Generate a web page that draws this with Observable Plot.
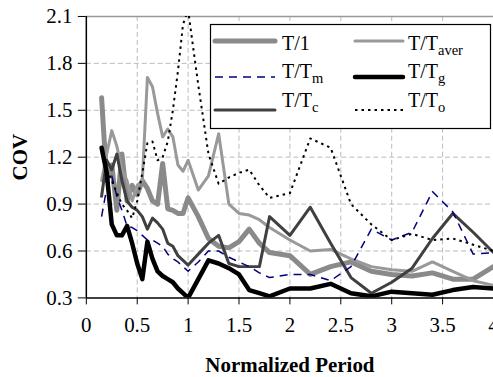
<!DOCTYPE html>
<html><head><meta charset="utf-8">
<script src="https://cdn.jsdelivr.net/npm/d3@7"></script>
<script src="https://cdn.jsdelivr.net/npm/@observablehq/plot@0.6"></script>
<style>
html,body{margin:0;padding:0;background:#fff;overflow:hidden;}
#wrap{position:relative;width:493px;height:377px;overflow:hidden;}
#wrap svg{display:block;}
#wrap svg, #wrap svg text{font-family:"Liberation Serif",serif !important;}
#legend{position:absolute;left:0;top:0;}
</style></head><body><div id="wrap"></div>
<script>
// Normalized period grid
const period = [0.15,0.2,0.25,0.3,0.35,0.4,0.45,0.5,0.55,0.6,0.65,0.7,0.75,0.8,0.85,0.9,0.95,1.0,
  1.1,1.2,1.3,1.4,1.5,1.6,1.7,1.8,2.0,2.2,2.4,2.6,2.8,3.0,3.2,3.4,3.6,3.8,4.0];
// COV series
const cov1 = [1.58,1.05,1.15,0.86,1.22,0.92,1.02,0.96,1.05,1.00,0.92,0.90,1.16,0.87,0.86,0.84,0.84,0.94,
  0.82,0.68,0.63,0.62,0.66,0.74,0.65,0.59,0.57,0.45,0.50,0.53,0.47,0.45,0.44,0.46,0.42,0.42,0.50];
const covAver = [1.05,1.22,1.37,1.27,1.12,1.05,0.92,1.02,1.05,1.71,1.65,1.48,1.33,1.38,1.33,1.15,1.11,1.18,
  0.99,1.08,1.35,0.90,0.84,0.83,0.80,0.75,0.67,0.60,0.61,0.55,0.50,0.48,0.47,0.53,0.47,0.41,0.38];
const covM = [0.82,1.00,1.08,0.95,0.86,0.76,0.75,0.73,0.70,0.67,0.67,0.65,0.63,0.58,0.55,0.53,0.50,0.47,
  0.53,0.60,0.60,0.56,0.53,0.50,0.46,0.43,0.45,0.45,0.41,0.50,0.74,0.67,0.72,0.98,0.85,0.58,0.59];
const covG = [1.26,1.10,0.77,0.70,0.70,0.76,0.65,0.52,0.42,0.66,0.55,0.47,0.44,0.42,0.40,0.36,0.33,0.30,
  0.42,0.54,0.52,0.49,0.45,0.35,0.33,0.31,0.36,0.36,0.39,0.33,0.31,0.34,0.33,0.32,0.35,0.37,0.36];
const covC = [0.95,1.18,1.12,1.22,1.05,0.92,0.88,0.86,0.82,0.74,0.81,0.78,0.74,0.65,0.63,0.57,0.54,0.51,
  0.58,0.65,0.70,0.52,0.50,0.50,0.50,0.82,0.70,0.88,0.65,0.43,0.33,0.40,0.49,0.68,0.84,0.72,0.59];
const covO = [null,1.12,1.05,0.97,0.90,0.86,0.81,0.92,1.10,1.29,1.30,1.18,1.20,1.30,1.50,1.75,2.05,2.14,
  1.66,1.22,1.03,1.07,1.10,1.12,1.02,0.94,0.97,1.32,1.26,0.90,0.77,0.67,0.71,0.67,0.68,0.64,0.60];

const xTicks = [0,0.5,1,1.5,2,2.5,3,3.5,4];
const yTicks = [0.3,0.6,0.9,1.2,1.5,1.8,2.1];
const xLabel = "Normalized Period";
const yLabel = "COV";

const series = [
  {base:"T/1", sub:"", values:cov1, stroke:"#8a8a8a", width:5, dash:null},
  {base:"T/T", sub:"aver", values:covAver, stroke:"#999999", width:3, dash:null},
  {base:"T/T", sub:"c", values:covC, stroke:"#404040", width:3, dash:null},
  {base:"T/T", sub:"m", values:covM, stroke:"#000080", width:1.5, dash:"8,6"},
  {base:"T/T", sub:"g", values:covG, stroke:"#000000", width:4.5, dash:null},
  {base:"T/T", sub:"o", values:covO, stroke:"#000000", width:2, dash:"2.5,4"}
];

const serif = "Liberation Serif";
const lineMarks = series.map(s => Plot.line(
  period.map((p,i) => ({p, v:s.values[i]})).filter(d => d.v != null),
  {x:"p", y:"v", stroke:s.stroke, strokeWidth:s.width, strokeDasharray:s.dash,
   strokeLinejoin:"round", strokeLinecap: s.dash ? "butt" : "round", clip:true}));

const chart = Plot.plot({
  width: 494, height: 377,
  marginLeft: 86, marginRight: 0, marginTop: 16, marginBottom: 79,
  style: "font-family: 'Liberation Serif', serif; font-size: 21px; background: #fff; color: #000;",
  x: {domain: [0, 4]},
  y: {domain: [0.3, 2.1]},
  marks: [
    Plot.gridX(xTicks.slice(1, -1), {stroke:"#bbbbbb", strokeOpacity:1, strokeDasharray:"5,3"}),
    Plot.gridY(yTicks.slice(1, -1), {stroke:"#bbbbbb", strokeOpacity:1, strokeDasharray:"5,3"}),
    Plot.ruleY([yTicks[yTicks.length-1]], {stroke:"#999", strokeWidth:1.5}),
    ...lineMarks,
    Plot.ruleX([xTicks[0]], {stroke:"#000", strokeWidth:1.5}),
    Plot.ruleY([yTicks[0]], {stroke:"#000", strokeWidth:1.5}),
    Plot.axisX({ticks: xTicks, tickSize: 7, tickPadding: 12, tickFormat: d => String(d), label: null, fontSize: 21}),
    Plot.axisY({ticks: yTicks, tickSize: 8, tickPadding: 6, tickFormat: d => d.toFixed(1), label: null, fontSize: 21}),
    Plot.text([xLabel], {frameAnchor:"bottom", lineAnchor:"middle", dy: 68, text: d => d, fontWeight:"bold", fontSize: 21}),
    Plot.text([yLabel], {frameAnchor:"left", textAnchor:"middle", lineAnchor:"middle", dx: -66, rotate: -90, text: d => d, fontWeight:"bold", fontSize: 21})
  ]
});
const wrap = document.getElementById("wrap");
wrap.appendChild(chart);

// Legend overlay
const lg = d3.select(wrap).append("svg").attr("id","legend")
  .attr("width", 493).attr("height", 377);
lg.append("rect").attr("x", 210.5).attr("y", 24.5).attr("width", 280).attr("height", 104)
  .attr("fill", "#fff").attr("stroke", "#000").attr("stroke-width", 1.2);
const order = [0, 3, 2, 1, 4, 5]; // column-major: T/1, T/Tm, T/Tc | T/Taver, T/Tg, T/To
const rowY = [41, 77, 110];
const baseY = [50, 78, 107];
order.forEach((si, k) => {
  const s = series[si];
  const col = Math.floor(k / 3), row = k % 3;
  const x0 = col === 0 ? 215 : 355, x1 = col === 0 ? 275 : 403;
  const tx = col === 0 ? 282 : 408;
  lg.append("line").attr("x1", x0).attr("x2", x1).attr("y1", rowY[row]).attr("y2", rowY[row])
    .attr("stroke", s.stroke).attr("stroke-width", s.width)
    .attr("stroke-dasharray", s.dash).attr("stroke-linecap", s.dash ? "butt" : "round");
  const t = lg.append("text").attr("x", tx).attr("y", baseY[row]).attr("font-size", 20).attr("fill", "#000");
  t.append("tspan").text(s.base);
  if (s.sub) t.append("tspan").attr("font-size", 14.5).attr("dy", 5).text(s.sub);
});
</script></body></html>
